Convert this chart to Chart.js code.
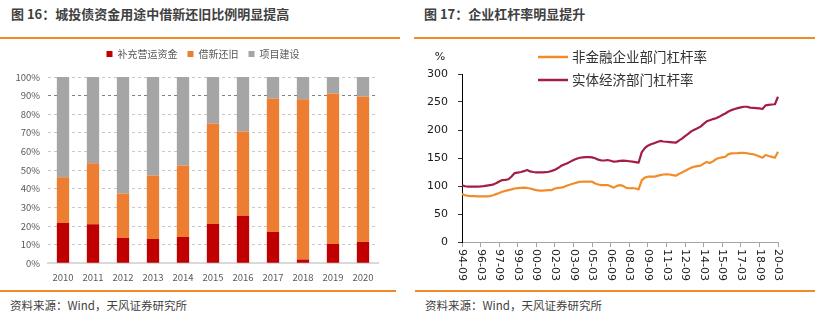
<!DOCTYPE html>
<html>
<head>
<meta charset="utf-8">
<script src="https://cdn.jsdelivr.net/npm/chart.js@4.4.1/dist/chart.umd.min.js"></script>
<style>
  html, body { margin: 0; padding: 0; background: #fff; width: 815px; height: 330px; overflow: hidden; }
  .title { position: absolute; top: 5px; font-family: "Noto Sans CJK SC", sans-serif; font-weight: bold;
           font-size: 13px; line-height: 18px; color: #404040; white-space: nowrap; }
  .rule { position: absolute; height: 2px; background: #F08A24; }
  .src { position: absolute; top: 297px; font-family: "Noto Sans CJK SC", sans-serif; font-size: 11.5px;
         line-height: 16px; color: #404040; white-space: nowrap; }
  .box { position: absolute; }
  canvas { display: block; }
</style>
</head>
<body>
<div class="title" style="left:11px;">图 16：城投债资金用途中借新还旧比例明显提高</div>
<div class="rule" style="left:0;top:37px;width:400px;"></div>
<div class="box" style="left:0;top:39px;width:400px;height:251px;"><canvas id="usage" width="400" height="251"></canvas></div>
<div class="rule" style="left:0;top:290px;width:396px;"></div>
<div class="src" style="left:10px;">资料来源：Wind，天风证券研究所</div>

<div class="title" style="left:424px;">图 17：企业杠杆率明显提升</div>
<div class="rule" style="left:414px;top:37px;width:401px;"></div>
<div class="box" style="left:405px;top:45px;width:410px;height:245px;"><canvas id="leverage" width="410" height="245"></canvas></div>
<div class="rule" style="left:415px;top:290px;width:400px;"></div>
<div class="src" style="left:425px;">资料来源：Wind，天风证券研究所</div>

<script>
// ---------- 城投债资金用途占比（%） ----------
const years = ['2010', '2011', '2012', '2013', '2014', '2015', '2016', '2017', '2018', '2019', '2020'];
const workingCapital = [21.6, 20.9, 13.6, 13.0, 14.1, 21.1, 25.5, 16.8, 2.0, 10.4, 11.4];
const refinancing    = [24.6, 32.8, 23.9, 34.1, 38.4, 53.9, 45.2, 71.6, 86.0, 80.8, 78.2];
const projects       = [53.8, 46.3, 62.5, 52.9, 47.5, 25.0, 29.3, 11.6, 12.0, 8.8, 10.4];

// ---------- 杠杆率（%），季度 ----------
const quarters = [];
for (let y = 1994, m = 9; y < 2020 || (y === 2020 && m <= 3); ) {
  quarters.push(String(y % 100).padStart(2, '0') + '-' + String(m).padStart(2, '0'));
  m += 3;
  if (m > 12) { m -= 12; y += 1; }
}
const tickLabels = ['94-09', '96-03', '97-09', '99-03', '00-09', '02-03', '03-09', '05-03', '06-09',
                    '08-03', '09-09', '11-03', '12-09', '14-03', '15-09', '17-03', '18-09', '20-03'];
const nonFinCorp = [
  85.5, 83.5, 82.3, 82, 81.8, 81.5, 81.5, 81.5, 81.5, 82,
  83.5, 85.5, 87.5, 89.8, 91.3, 92.7, 94, 95.5, 96.3, 96.8,
  97, 96.5, 95.5, 94, 92.5, 91.8, 91.8, 92.2, 92.5, 92.8,
  95.5, 96.6, 97, 98.5, 101, 102.8, 104.5, 106, 107.5, 107.7,
  107.7, 107.7, 107.7, 104.5, 102.7, 101.7, 101.7, 101.7, 99.5, 97,
  100.3, 101.5, 100.3, 96.5, 96, 96.4, 95.5, 94, 110, 115,
  116.6, 116.6, 116.6, 118, 119.5, 120.5, 121, 120.5, 119.5, 118.4,
  121.5, 124, 127, 130, 132.8, 134.5, 135.5, 136.5, 140, 143,
  141, 144, 148.2, 150, 151.2, 152.2, 157, 158.3, 158.5, 158.8,
  159.3, 159.2, 158.5, 157.5, 156.8, 155, 152.8, 150.5, 155.3, 153.5,
  152, 150.5, 161.1
];
const realEconomy = [
  101.5, 99.5, 98.8, 98.8, 98.8, 98.8, 99.2, 99.8, 100.8, 101.7,
  102.5, 104.8, 108, 110.5, 111, 112, 117, 123, 124, 125,
  126.5, 128.5, 126, 125, 124.5, 124.4, 124.4, 124.6, 125.5, 127,
  129, 132, 136, 138.5, 140.5, 143.5, 146.4, 148.5, 150.5, 151.2,
  151.7, 151.5, 151.1, 149.5, 147, 145.5, 145.5, 146.4, 145, 143.4,
  144, 145, 145.2, 144.8, 144.2, 143.5, 142.5, 141.6, 160, 167.5,
  172, 174.5, 176.5, 178.5, 180.5, 179.5, 179, 178.5, 178, 177.3,
  181, 184.5, 189, 193, 197.5, 200.5, 203, 206, 211, 215.5,
  217.5, 219.5, 221, 223.5, 226.7, 229.5, 233, 235.5, 237.5, 239,
  240.5, 241.5, 241.5, 240, 239.5, 239, 238.5, 237.5, 244, 245,
  245.5, 246, 259.3
];

const grayText = '#595959';
const cjk = '"Noto Sans CJK SC", sans-serif';

// extra room between the legend row and the plot; legend row nudged right
const legendGap = {
  id: 'legendGap',
  beforeInit(chart) {
    const fit = chart.legend.fit;
    chart.legend.fit = function () { fit.call(this); this.height += 8; };
  },
  beforeDraw(chart) {
    chart.legend.left += 14;
    chart.legend.right += 14;
  }
};

new Chart(document.getElementById('usage'), {
  type: 'bar',
  data: {
    labels: years,
    datasets: [
      { label: '补充营运资金', data: workingCapital, backgroundColor: '#C00000' },
      { label: '借新还旧', data: refinancing, backgroundColor: '#ED7D31' },
      { label: '项目建设', data: projects, backgroundColor: '#A5A5A5' }
    ]
  },
  options: {
    responsive: false, animation: false, devicePixelRatio: 1,
    layout: { padding: { top: 0, right: 22, bottom: 0, left: 0 } },
    datasets: { bar: { barPercentage: 0.41, categoryPercentage: 1 } },
    plugins: {
      legend: {
        labels: { boxWidth: 6, boxHeight: 6, padding: 10, color: grayText, font: { family: cjk, size: 10 } }
      },
      tooltip: { enabled: false }
    },
    scales: {
      x: {
        stacked: true,
        grid: { display: false },
        border: { color: '#D9D9D9', width: 2 },
        ticks: { color: grayText, font: { family: cjk, size: 9.5 }, padding: 0 },
        afterFit: s => { s.height = 26.7; }
      },
      y: {
        stacked: true, min: 0, max: 100,
        ticks: { stepSize: 10, callback: v => v + '%', color: grayText, font: { family: cjk, size: 9.5 }, padding: 8 },
        grid: { drawTicks: false, color: c => (c.tick && c.tick.value === 90 ? '#7F7F7F' : '#C8C8C8') },
        border: { display: false, dash: [3, 3] },
        afterFit: s => { s.width = 48; }
      }
    }
  },
  plugins: [legendGap]
});

// rotated quarter labels, unit mark and stacked legend for the leverage chart
const leverageDecor = {
  id: 'leverageDecor',
  afterDraw(chart) {
    const { ctx, chartArea, scales: { x } } = chart;
    ctx.save();
    ctx.fillStyle = '#1A1A1A';
    ctx.font = '11px "DejaVu Sans"';
    ctx.textAlign = 'left';
    ctx.textBaseline = 'middle';
    x.ticks.forEach(t => {
      const px = x.getPixelForValue(t.value);
      ctx.save();
      ctx.translate(px, chartArea.bottom + 7);
      ctx.rotate(Math.PI / 2);
      ctx.fillText(quarters[t.value], 0, 0);
      ctx.restore();
    });
    ctx.textAlign = 'center';
    ctx.fillText('%', 35, 12);

    ctx.font = '13.5px ' + cjk;
    ctx.textAlign = 'left';
    ctx.fillStyle = '#333333';
    chart.data.datasets.forEach((ds, i) => {
      const y = 12 + i * 23;
      ctx.strokeStyle = ds.borderColor;
      ctx.lineWidth = 2.5;
      ctx.beginPath();
      ctx.moveTo(133, y);
      ctx.lineTo(163, y);
      ctx.stroke();
      ctx.fillText(ds.label, 167, y);
    });
    ctx.restore();
  }
};

new Chart(document.getElementById('leverage'), {
  type: 'line',
  data: {
    labels: quarters,
    datasets: [
      { label: '非金融企业部门杠杆率', data: nonFinCorp, borderColor: '#F28C28', borderWidth: 2.2,
        pointRadius: 0, tension: 0, borderJoinStyle: 'round' },
      { label: '实体经济部门杠杆率', data: realEconomy, borderColor: '#A31D45', borderWidth: 2.2,
        pointRadius: 0, tension: 0, borderJoinStyle: 'round' }
    ]
  },
  options: {
    responsive: false, animation: false, devicePixelRatio: 1,
    layout: { padding: { top: 29, right: 37, bottom: 0, left: 0 } },
    plugins: { legend: { display: false }, tooltip: { enabled: false } },
    scales: {
      x: {
        type: 'category', offset: false,
        afterBuildTicks: s => { s.ticks = s.ticks.filter(t => tickLabels.includes(quarters[t.value])); },
        afterFit: s => { s.height = 48; },
        ticks: { display: false, autoSkip: false },
        grid: { drawOnChartArea: false, drawTicks: true, tickLength: 5, color: '#A6A6A6' },
        border: { color: '#A6A6A6' }
      },
      y: {
        min: 0, max: 300,
        ticks: { stepSize: 50, color: '#1A1A1A', font: { family: 'DejaVu Sans', size: 11 }, padding: 10 },
        grid: { drawOnChartArea: false, tickLength: 4, color: '#333333' },
        border: { color: '#000000', width: 1 },
        afterFit: s => { s.width = 57; }
      }
    }
  },
  plugins: [leverageDecor]
});
</script>
</body>
</html>
